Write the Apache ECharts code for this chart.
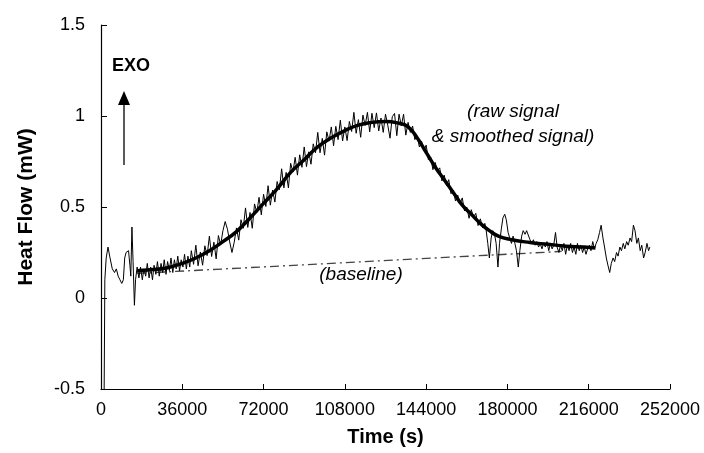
<!DOCTYPE html>
<html>
<head>
<meta charset="utf-8">
<script src="https://cdn.jsdelivr.net/npm/echarts@6/dist/echarts.min.js"></script>
<style>
  html, body { margin: 0; padding: 0; background: #fff; }
  #chart { width: 704px; height: 453px; }
</style>
</head>
<body>
<div id="chart"></div>
<script>
// axis ticks
const timeTicks = { min: 0, max: 252000, interval: 36000 }
const flowTicks = { min: -0.5, max: 1.5, interval: 0.5 }

// smoothed signal
const smoothTime = [16000, 22000, 29000, 36000, 42000, 48000, 54000, 60000, 66000, 72000, 78000, 84000, 90000, 96000, 102000, 108000, 114000, 120000, 126000, 132000, 136000, 140000, 144000, 148000, 152000, 156000, 160000, 164000, 168000, 172000, 176000, 182000, 190000, 198000, 206000, 214000, 219000]
const smoothFlow = [0.15, 0.155, 0.165, 0.19, 0.22, 0.26, 0.31, 0.365, 0.44, 0.52, 0.6, 0.69, 0.76, 0.83, 0.88, 0.92, 0.95, 0.965, 0.97, 0.96, 0.94, 0.88, 0.8, 0.72, 0.65, 0.58, 0.51, 0.46, 0.41, 0.37, 0.34, 0.32, 0.305, 0.295, 0.285, 0.28, 0.275]

// baseline (dash-dot)
const baselineTime = [16000, 204000]
const baselineFlow = [0.135, 0.256]

// raw signal [time, flow]
const rawSignal = [
  [1400, -0.5], [1700, 0.1], [2300, 0.22], [3100, 0.28], [4000, 0.22], [5000, 0.16], [6000, 0.14],
  [6800, 0.16], [7600, 0.12], [8400, 0.1], [9200, 0.08], [9900, 0.1], [10500, 0.22], [11100, 0.25], [11700, 0.24],
  [12200, 0.26], [12800, 0.18], [13200, 0.12], [13700, 0.39], [14200, 0.2], [14800, -0.04], [15300, 0.1], [16000, 0.17],
  [16800, 0.11], [17500, 0.17], [18300, 0.10], [19000, 0.16], [19800, 0.12], [20500, 0.19], [21300, 0.11], [22000, 0.17],
  [22800, 0.10], [23500, 0.18], [24300, 0.13], [25000, 0.2], [25800, 0.12], [26600, 0.19], [27300, 0.14], [28000, 0.21],
  [28800, 0.13], [29500, 0.2], [30300, 0.15], [31000, 0.22], [31800, 0.14], [32500, 0.21], [33300, 0.16], [34000, 0.23],
  [34800, 0.15], [35500, 0.21], [36300, 0.17], [37000, 0.24], [37800, 0.16], [38500, 0.23], [39300, 0.17],
  [40000, 0.26], [41000, 0.185], [42000, 0.29], [43000, 0.177], [44000, 0.253], [45000, 0.18], [46000, 0.287], [47000, 0.233],
  [48000, 0.34], [49000, 0.228], [50000, 0.307], [51000, 0.215], [52000, 0.343], [53000, 0.292], [54000, 0.37], [55000, 0.42],
  [56000, 0.378], [57000, 0.308], [58000, 0.25], [59000, 0.306], [60000, 0.385], [61000, 0.318], [62000, 0.43], [63000, 0.383],
  [64000, 0.495], [65000, 0.388], [66000, 0.47], [67000, 0.383], [68000, 0.517], [69000, 0.47], [70000, 0.553], [71000, 0.457],
  [72000, 0.57], [73000, 0.503], [74000, 0.617], [75000, 0.51], [76000, 0.593], [77000, 0.527], [78000, 0.64], [79000, 0.595],
  [80000, 0.71], [81000, 0.605], [82000, 0.69], [83000, 0.605], [84000, 0.74], [85000, 0.692], [86000, 0.773], [87000, 0.675],
  [88000, 0.787], [89000, 0.718], [90000, 0.83], [91000, 0.722], [92000, 0.803], [93000, 0.735], [94000, 0.847], [95000, 0.798],
  [96000, 0.91], [97000, 0.798], [98000, 0.877], [99000, 0.785], [100000, 0.913], [101000, 0.862], [102000, 0.94], [103000, 0.837],
  [104000, 0.943], [105000, 0.87], [106000, 0.977], [107000, 0.863], [108000, 0.94], [109000, 0.865], [110000, 0.97], [111000, 0.915],
  [112000, 1.02], [113000, 0.905], [114000, 0.98], [115000, 0.883], [116000, 1.005], [117000, 0.948], [118000, 1.02], [119000, 0.913],
  [120000, 1.015], [121000, 0.936], [122000, 1.017], [123000, 0.918], [124000, 0.989], [125000, 0.91], [126000, 1.01], [127000, 0.95],
  [128000, 0.878], [129000, 0.996], [130000, 1.014], [131000, 0.892], [132000, 1.01], [133000, 0.945], [134000, 1.01], [135000, 0.895],
  [136000, 0.965], [137000, 0.91], [138000, 0.945], [139000, 0.87], [140000, 0.89], [141000, 0.83], [142000, 0.86], [143000, 0.81],
  [144000, 0.84], [145000, 0.76], [146000, 0.775], [147000, 0.705], [148000, 0.745], [149000, 0.698], [150000, 0.715], [151000, 0.643],
  [152000, 0.675], [153000, 0.618], [154000, 0.65], [155000, 0.573], [156000, 0.59], [157000, 0.533], [158000, 0.565], [159000, 0.518],
  [160000, 0.55], [161000, 0.478], [162000, 0.5], [163000, 0.438], [164000, 0.485], [165000, 0.443], [166000, 0.465], [167000, 0.398],
  [168000, 0.435], [169000, 0.385], [170000, 0.41], [170500, 0.38], [171300, 0.3], [172000, 0.22],
  [172800, 0.33], [173500, 0.37], [174300, 0.35], [175000, 0.3], [175800, 0.17], [176500, 0.3], [177300, 0.38], [178000, 0.44],
  [178800, 0.46], [179500, 0.43], [180300, 0.36], [181000, 0.33], [181800, 0.3], [182500, 0.34], [183300, 0.3], [184000, 0.26],
  [184800, 0.17], [185500, 0.26], [186300, 0.34], [187000, 0.37], [187800, 0.35], [188500, 0.37], [189300, 0.36], [190000, 0.32],
  [190800, 0.3], [191500, 0.32], [192300, 0.29], [193000, 0.31], [193800, 0.28], [194500, 0.3], [195300, 0.27], [196000, 0.3],
  [196800, 0.28], [197500, 0.31], [198300, 0.26], [199000, 0.3], [199800, 0.27], [200500, 0.29], [201300, 0.36], [202000, 0.28],
  [202800, 0.25], [203500, 0.29], [204300, 0.26], [205000, 0.3], [205800, 0.24], [206500, 0.29], [207300, 0.26], [208000, 0.3],
  [208800, 0.25], [209500, 0.28], [210300, 0.24], [211000, 0.3], [211800, 0.26], [212500, 0.29], [213300, 0.25], [214000, 0.28],
  [214800, 0.24], [215500, 0.27], [216300, 0.29], [217000, 0.26], [217800, 0.31], [218500, 0.27], [219300, 0.3], [220000, 0.32],
  [220800, 0.36], [221500, 0.4], [222300, 0.33], [223000, 0.28], [223800, 0.22], [224500, 0.18], [225300, 0.14], [226000, 0.19],
  [226800, 0.22], [227500, 0.2], [228300, 0.25], [229000, 0.23], [229800, 0.28], [230500, 0.26], [231300, 0.3], [232000, 0.27],
  [232800, 0.31], [233500, 0.29], [234300, 0.33], [235000, 0.31], [235800, 0.4], [236500, 0.37], [237300, 0.3], [238000, 0.33],
  [238800, 0.26], [239500, 0.29], [240300, 0.22], [241000, 0.25], [241800, 0.3], [242500, 0.26], [243100, 0.28]
]

const font = "'Liberation Sans', Arial, sans-serif"

let chart = echarts.init(document.getElementById('chart'))

let option = {
  animation: false,
  backgroundColor: '#fff',
  textStyle: { fontFamily: font },
  grid: {
    left: 101,
    right: 34,
    top: 25,
    bottom: 64,
    containLabel: false,
    outerBoundsMode: 'none'
  },
  xAxis: {
    type: 'value',
    min: timeTicks.min,
    max: timeTicks.max,
    interval: timeTicks.interval,
    name: 'Time (s)',
    nameLocation: 'middle',
    nameGap: 38,
    nameTextStyle: { fontFamily: font, fontSize: 20, fontWeight: 'bold', color: '#000' },
    axisLine: { onZero: false, lineStyle: { color: '#000', width: 1.2 } },
    axisTick: { inside: true, length: 5, lineStyle: { color: '#000' } },
    axisLabel: {
      fontFamily: font, fontSize: 18, color: '#000', margin: 12,
      formatter: function (v) { return String(v) }
    },
    splitLine: { show: false }
  },
  yAxis: {
    type: 'value',
    min: flowTicks.min,
    max: flowTicks.max,
    interval: flowTicks.interval,
    name: 'Heat Flow (mW)',
    nameLocation: 'middle',
    nameGap: 64,
    nameTextStyle: { fontFamily: font, fontSize: 21, fontWeight: 'bold', color: '#000' },
    axisLine: { show: true, lineStyle: { color: '#000', width: 1.2 } },
    axisTick: { show: true, inside: true, length: 6, lineStyle: { color: '#000' } },
    axisLabel: { fontFamily: font, fontSize: 18, color: '#000', margin: 16 },
    splitLine: { show: false }
  },
  series: [
    {
      name: 'baseline',
      type: 'line',
      symbol: 'none',
      data: baselineTime.map((t, i) => [t, baselineFlow[i]]),
      lineStyle: { color: '#444', width: 1.3, type: [9, 4, 2, 4] },
      z: 1
    },
    {
      name: 'raw',
      type: 'line',
      symbol: 'none',
      data: rawSignal,
      lineStyle: { color: '#000', width: 1 },
      z: 2
    },
    {
      name: 'smoothed',
      type: 'line',
      symbol: 'none',
      smooth: true,
      data: smoothTime.map((t, i) => [t, smoothFlow[i]]),
      lineStyle: { color: '#000', width: 3.5 },
      z: 3
    }
  ],
  graphic: [
    {
      type: 'text', left: 112, top: 57,
      style: { text: 'EXO', font: 'bold 18px ' + font, fill: '#000' }
    },
    {
      type: 'line',
      shape: { x1: 124, y1: 165, x2: 124, y2: 103 },
      style: { stroke: '#000', lineWidth: 1.3 }
    },
    {
      type: 'polygon',
      shape: { points: [[124, 91], [118, 105], [130, 105]] },
      style: { fill: '#000' }
    },
    {
      type: 'text', x: 513, y: 112,
      style: { text: '(raw signal', font: 'italic 19px ' + font, fill: '#000', textAlign: 'center', textVerticalAlign: 'middle' }
    },
    {
      type: 'text', x: 513, y: 137,
      style: { text: '& smoothed signal)', font: 'italic 19px ' + font, fill: '#000', textAlign: 'center', textVerticalAlign: 'middle' }
    },
    {
      type: 'text', x: 361, y: 275,
      style: { text: '(baseline)', font: 'italic 19px ' + font, fill: '#000', textAlign: 'center', textVerticalAlign: 'middle' }
    }
  ]
}

chart.setOption(option)
window.addEventListener('resize', function () {
  chart.resize()
})
</script>
</body>
</html>
